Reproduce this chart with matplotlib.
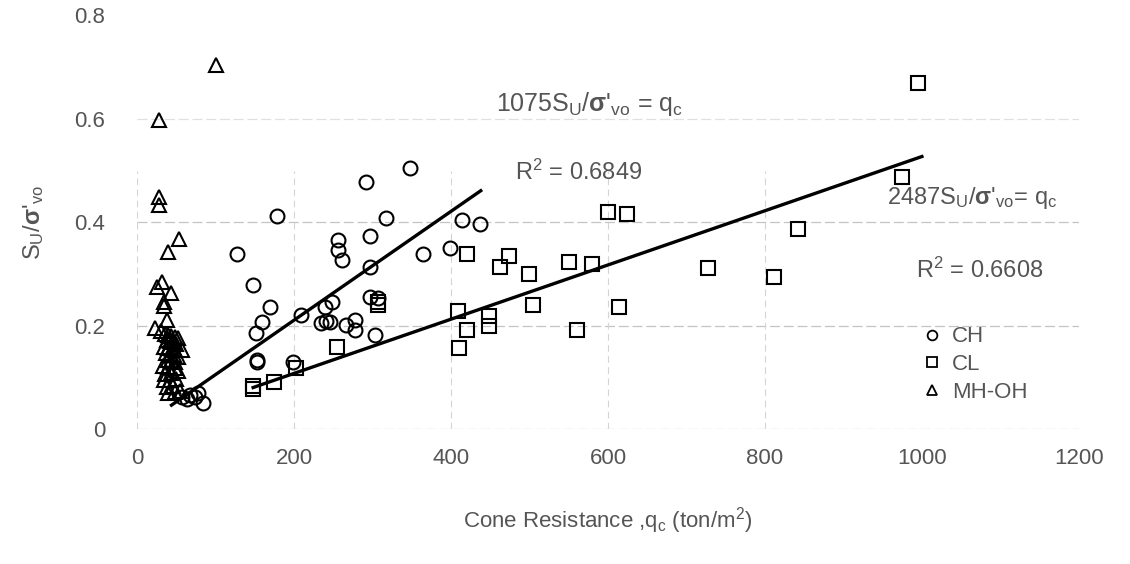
import matplotlib
matplotlib.use("Agg")
import matplotlib.pyplot as plt
from matplotlib.lines import Line2D

plt.rcParams['font.family'] = ['Liberation Sans', 'DejaVu Sans']
plt.rcParams['mathtext.fontset'] = 'custom'
plt.rcParams['mathtext.rm'] = 'Liberation Sans'
plt.rcParams['mathtext.it'] = 'Liberation Sans:italic'
plt.rcParams['mathtext.bf'] = 'Liberation Sans:bold'

# ---------------- data ----------------
ch_x = [58, 64, 68, 74, 78, 84, 127, 148, 152, 153, 153, 159, 169, 178, 199, 209,
        235, 241, 239, 249, 256, 256, 261, 266, 278, 278, 292, 297, 297, 297, 303,
        307, 317, 348, 364, 399, 414, 437, 246]
ch_y = [0.062, 0.058, 0.066, 0.062, 0.070, 0.052, 0.338, 0.279, 0.186, 0.134, 0.130,
        0.208, 0.237, 0.412, 0.131, 0.221, 0.205, 0.210, 0.237, 0.247, 0.366, 0.347,
        0.327, 0.202, 0.211, 0.192, 0.478, 0.374, 0.314, 0.256, 0.182, 0.253, 0.408,
        0.505, 0.338, 0.350, 0.404, 0.397, 0.208]

cl_x = [148, 148, 175, 203, 255, 307, 307, 409, 410, 420, 420, 449, 449, 463, 474,
        499, 504, 550, 560, 580, 600, 614, 624, 727, 811, 842, 974, 995]
cl_y = [0.079, 0.084, 0.092, 0.118, 0.159, 0.247, 0.240, 0.229, 0.158, 0.339, 0.193,
        0.219, 0.200, 0.314, 0.334, 0.300, 0.240, 0.323, 0.193, 0.320, 0.420, 0.236,
        0.416, 0.311, 0.295, 0.388, 0.488, 0.668]

mh_x = [101, 28, 28, 28, 54, 39, 25, 32, 43, 34, 34, 38, 23, 30,
        36, 40, 44, 48, 52, 38, 42, 46, 50, 35, 40, 45, 49, 58, 37, 42, 47, 52, 39, 44, 49,
        33, 40, 48, 36, 44, 52, 34, 42, 50, 38, 46, 40, 48, 55]
mh_y = [0.704, 0.598, 0.449, 0.433, 0.367, 0.342, 0.276, 0.284, 0.263, 0.246, 0.238, 0.212, 0.196, 0.190,
        0.185, 0.182, 0.180, 0.178, 0.176, 0.172, 0.170, 0.168, 0.165, 0.160, 0.158, 0.156, 0.154, 0.153,
        0.148, 0.145, 0.143, 0.140, 0.135, 0.132, 0.130,
        0.122, 0.120, 0.118, 0.108, 0.110, 0.112, 0.096, 0.095, 0.098, 0.082, 0.084, 0.070, 0.072, 0.075]

# fitted trend lines (end points)
ch_fit_x = [44, 438]
ch_fit_y = [0.047, 0.461]
cl_fit_x = [148, 1000]
cl_fit_y = [0.081, 0.527]

x_ticks = [0, 200, 400, 600, 800, 1000, 1200]
y_ticks = [0, 0.2, 0.4, 0.6, 0.8]
y_tick_labels = ['0', '0.2', '0.4', '0.6', '0.8']

gray = '#555555'

fig = plt.figure(figsize=(11.3, 5.64), dpi=100)
ax = fig.add_axes([0.1212, 0.2385, 0.8336, 0.7347])
ax.set_xlim(0, 1200)
ax.set_ylim(0, 0.8)

for s in ax.spines.values():
    s.set_visible(False)

# faint grid
for yv in [0, 0.2, 0.4]:
    ax.plot([0, 1200], [yv, yv], color='#c4c4c4', lw=0.9, ls=(0, (8, 3)), zorder=0)
ax.plot([0, 1200], [0.6, 0.6], color='#e0e0e0', lw=0.9, ls=(0, (8, 3)), zorder=0)
for xv in [0, 200, 400, 600, 800]:
    ax.plot([xv, xv], [0, 0.5], color='#d4d4d4', lw=0.8, ls=(0, (6, 4)), zorder=0)

mk = dict(ls='none', mfc='none', mec='black', mew=1.5, clip_on=False, zorder=3)
ax.plot(ch_x, ch_y, marker='o', ms=10, **mk)
ax.plot(cl_x, cl_y, marker='s', ms=9.5, **mk)
ax.plot(mh_x, mh_y, marker='^', ms=9.5, **mk)

ax.plot(ch_fit_x, ch_fit_y, color='black', lw=2.4, zorder=4)
ax.plot(cl_fit_x, cl_fit_y, color='black', lw=2.4, zorder=4)

ax.set_xticks(x_ticks)
ax.set_xticklabels([str(v) for v in x_ticks], color=gray, fontsize=16)
ax.set_yticks(y_ticks)
ax.set_yticklabels(y_tick_labels, color=gray, fontsize=16)
ax.tick_params(axis='x', length=0, pad=13)
ax.tick_params(axis='y', length=0, pad=23)

ax.set_xlabel(r"Cone Resistance ,q$_{\rm c}$ (ton/m$^{2}$)", color=gray, fontsize=16,
              labelpad=26)
ax.set_ylabel(r"S$_{\rm U}$/$\mathbf{\sigma}$'$_{\rm vo}$", color=gray, fontsize=17, labelpad=20)

ax.text(577, 0.628, r"1075S$_{\rm U}$/$\mathbf{\sigma}$'$_{\rm vo}$ = q$_{\rm c}$",
        color=gray, fontsize=18, ha='center', va='center')
ax.text(482, 0.497, r"R$^{2}$ = 0.6849", color=gray, fontsize=17, ha='left', va='center')
ax.text(955, 0.447, r"2487S$_{\rm U}$/$\mathbf{\sigma}$'$_{\rm vo}$= q$_{\rm c}$",
        color=gray, fontsize=17, ha='left', va='center')
ax.text(993, 0.308, r"R$^{2}$ = 0.6608", color=gray, fontsize=17, ha='left', va='center')

handles = [Line2D([], [], marker='o', ls='none', mfc='none', mec='black', mew=1.3, ms=7),
           Line2D([], [], marker='s', ls='none', mfc='none', mec='black', mew=1.3, ms=7),
           Line2D([], [], marker='^', ls='none', mfc='none', mec='black', mew=1.3, ms=7)]
leg = ax.legend(handles, ['CH', 'CL', 'MH-OH'], loc='upper left', bbox_to_anchor=(0.825, 0.27),
                frameon=False, fontsize=16, handlelength=0.8, handletextpad=0.5,
                labelspacing=0.3, borderaxespad=0)
for t in leg.get_texts():
    t.set_color(gray)

fig.savefig('out.png', dpi=100)
